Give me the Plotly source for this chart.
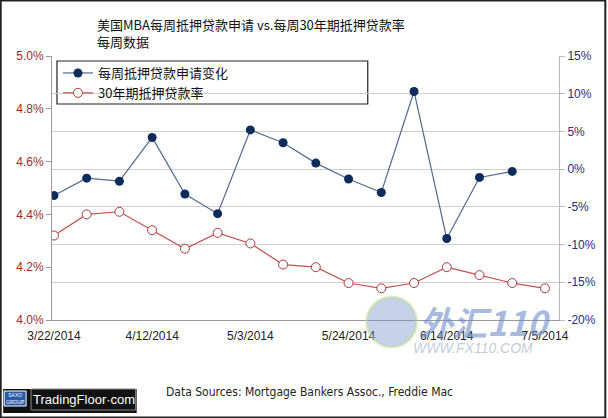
import plotly.graph_objects as go

# weekly dates (week ending)
dates = [
    "2014-03-22", "2014-03-29", "2014-04-05", "2014-04-12", "2014-04-19",
    "2014-04-26", "2014-05-03", "2014-05-10", "2014-05-17", "2014-05-24",
    "2014-05-31", "2014-06-07", "2014-06-14", "2014-06-21", "2014-06-28",
    "2014-07-05",
]

# MBA weekly applications change, % (no value yet for the last week)
apps_change = [-3.5, -1.2, -1.6, 4.2, -3.3, -5.9, 5.2, 3.5, 0.8, -1.3,
               -3.1, 10.3, -9.2, -1.1, -0.3, None]

# Freddie Mac 30y mortgage rate, %
rate_30y = [4.32, 4.40, 4.41, 4.34, 4.27, 4.33, 4.29, 4.21, 4.20, 4.14,
            4.12, 4.14, 4.20, 4.17, 4.14, 4.12]

x_tickvals = ["2014-03-22", "2014-04-12", "2014-05-03", "2014-05-24",
              "2014-06-14", "2014-07-05"]
x_ticktext = ["3/22/2014", "4/12/2014", "5/3/2014", "5/24/2014",
              "6/14/2014", "7/5/2014"]

left_tickvals = [4.0, 4.2, 4.4, 4.6, 4.8, 5.0]
left_ticktext = ["4.0%", "4.2%", "4.4%", "4.6%", "4.8%", "5.0%"]

right_tickvals = [-20, -15, -10, -5, 0, 5, 10, 15]
right_ticktext = ["-20%", "-15%", "-10%", "-5%", "0%", "5%", "10%", "15%"]

W, H = 608, 418
L, R, T, B = 52, 561, 56, 320


def px(x):
    return (x - L) / (R - L)


def py(y):
    return (B - y) / (B - T)


fig = go.Figure()

fig.add_trace(go.Scatter(
    x=dates, y=apps_change, name="每周抵押贷款申请变化", yaxis="y2",
    mode="lines+markers",
    line=dict(color="#4f6a8f", width=1.2),
    marker=dict(color="#0c2c5c", size=9),
))
fig.add_trace(go.Scatter(
    x=dates, y=rate_30y, name="30年期抵押贷款率", yaxis="y",
    mode="lines+markers",
    line=dict(color="#c0504d", width=1.2),
    marker=dict(color="white", size=9, line=dict(color="#b0383a", width=1)),
))

shapes = [
    # legend box
    dict(type="rect", xref="paper", yref="paper", layer="between",
         x0=px(57), x1=px(369), y0=py(104), y1=py(61),
         fillcolor="white", line=dict(color="#222", width=1.2)),
    # watermark globe
    dict(type="circle", xref="paper", yref="paper", layer="above",
         x0=px(368), x1=px(418), y0=py(347), y1=py(297),
         fillcolor="rgba(110,140,200,0.4)", line=dict(color="rgba(190,220,150,0.5)", width=3)),
    # logo
    dict(type="rect", xref="paper", yref="paper",
         x0=px(3), x1=px(137), y0=py(413), y1=py(389),
         fillcolor="#111", line=dict(width=0)),
    dict(type="rect", xref="paper", yref="paper",
         x0=px(4), x1=px(26), y0=py(406), y1=py(391),
         fillcolor="#2a5aa8", line=dict(color="white", width=1)),
    dict(type="rect", xref="paper", yref="paper",
         x0=px(31), x1=px(136), y0=py(410), y1=py(389),
         fillcolor="#111", line=dict(color="#888", width=1)),
    # outer frame
    dict(type="rect", xref="paper", yref="paper",
         x0=px(0.5), x1=px(W - 0.5), y0=py(H - 0.5), y1=py(0.5),
         line=dict(color="#222", width=2)),
]

annotations = [
    dict(text="美国MBA每周抵押贷款申请 vs.每周30年期抵押贷款率<br>每周数据",
         xref="paper", yref="paper", x=px(95), y=py(13),
         xanchor="left", yanchor="top", align="left", showarrow=False,
         font=dict(size=13, color="#111", family="Noto Sans CJK SC")),
    dict(text="Data Sources: Mortgage Bankers Assoc., Freddie Mac",
         xref="paper", yref="paper", x=px(311), y=py(392),
         xanchor="center", yanchor="middle", showarrow=False,
         font=dict(size=12, color="#222", family="DejaVu Sans Condensed")),
    dict(text="<b><i>外汇110</i></b>", xref="paper", yref="paper", x=px(418), y=py(321),
         xanchor="left", yanchor="middle", showarrow=False,
         font=dict(size=34, color="rgba(110,140,200,0.6)", family="Noto Sans CJK SC")),
    dict(text="<i>WWW.FX110.COM</i>", xref="paper", yref="paper", x=px(412), y=py(348),
         xanchor="left", yanchor="middle", showarrow=False,
         font=dict(size=14, color="rgba(150,165,190,0.6)", family="Liberation Sans")),
    dict(text="SAXO<br>GROUP", xref="paper", yref="paper", x=px(15), y=py(398),
         xanchor="center", yanchor="middle", showarrow=False,
         font=dict(size=5, color="white", family="Liberation Sans")),
    dict(text="TradingFloor·com", xref="paper", yref="paper", x=px(84), y=py(399),
         xanchor="center", yanchor="middle", showarrow=False,
         font=dict(size=13, color="white", family="Liberation Sans")),
]

fig.update_layout(
    width=W, height=H,
    margin=dict(l=L, r=W - R, t=T, b=H - B),
    paper_bgcolor="white", plot_bgcolor="white",
    font=dict(family="Liberation Sans", size=11, color="#222"),
    showlegend=True,
    legend=dict(x=px(58), y=py(58), xanchor="left", yanchor="top",
                bgcolor="rgba(0,0,0,0)", borderwidth=0,
                font=dict(size=13, family="Noto Sans CJK SC", color="#111"),
                itemwidth=30, tracegroupgap=0),
    xaxis=dict(type="date", range=["2014-03-21 14:00", "2014-07-08"],
               tickvals=x_tickvals, ticktext=x_ticktext,
               showgrid=False, showline=True, linecolor="#999", linewidth=1,
               ticks="outside", ticklen=5, tickcolor="rgba(0,0,0,0)",
               tickfont=dict(size=12, color="#222"), zeroline=False),
    yaxis=dict(range=[4.0, 5.0], tickvals=left_tickvals, ticktext=left_ticktext,
               showgrid=False, showline=True, linecolor="#999", linewidth=1,
               ticks="outside", ticklen=5, tickcolor="#999",
               tickfont=dict(size=12, color="#9e2a2b"), zeroline=False),
    yaxis2=dict(range=[-20, 15], tickvals=right_tickvals, ticktext=right_ticktext,
                overlaying="y", side="right",
                showgrid=True, gridcolor="#cfcfcf", gridwidth=1,
                showline=True, linecolor="#bbb", linewidth=1,
                ticks="outside", ticklen=5, tickcolor="#bbb",
                tickfont=dict(size=12, color="#2b2d7c"), zeroline=False),
    shapes=shapes,
    annotations=annotations,
)

# page margin off so the figure sits at the window's corner
fig.write_html("out.html", config={"displayModeBar": False},
               post_script="document.body.style.margin='0';")
